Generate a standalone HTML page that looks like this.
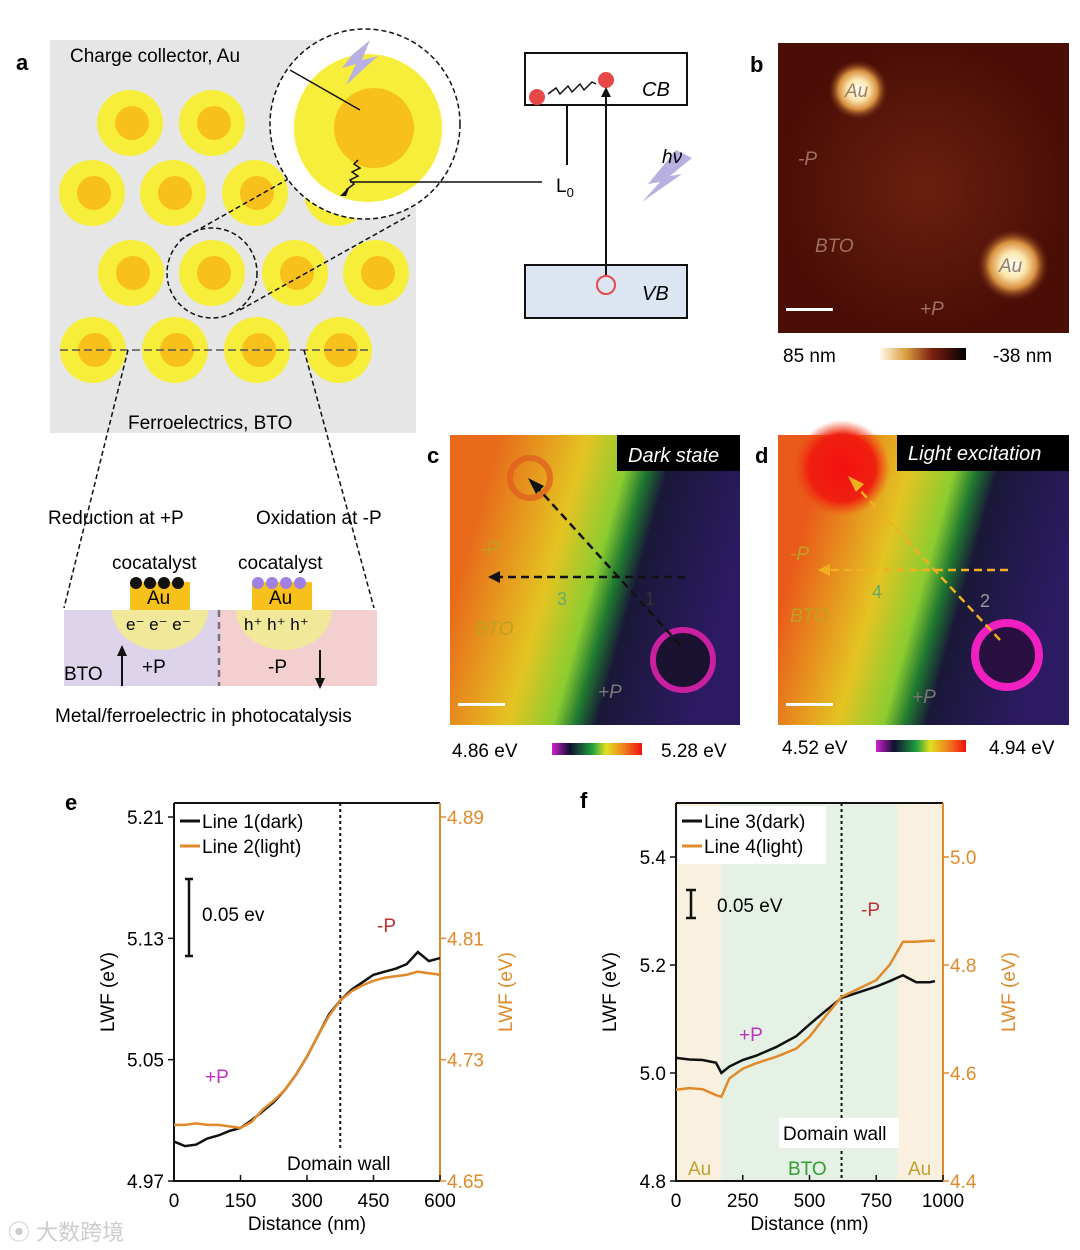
<!DOCTYPE html>
<html><head><meta charset="utf-8"><style>
body{margin:0;background:#fff;}
svg{display:block;font-family:"Liberation Sans",Arial,sans-serif;}
</style></head><body>
<svg id="fig" width="1080" height="1250" viewBox="0 0 1080 1250">
<defs>
<linearGradient id="gc" gradientUnits="userSpaceOnUse" x1="470" y1="540" x2="720" y2="610">
<stop offset="0" stop-color="#e86a1a"/><stop offset="0.33" stop-color="#e4c422"/><stop offset="0.5" stop-color="#8ccc30"/><stop offset="0.58" stop-color="#1f7a30"/><stop offset="0.66" stop-color="#1a1838"/><stop offset="1" stop-color="#2c1a62"/></linearGradient>
<linearGradient id="gd" gradientUnits="userSpaceOnUse" x1="800" y1="540" x2="1050" y2="610">
<stop offset="0" stop-color="#ea5a1a"/><stop offset="0.33" stop-color="#e4c422"/><stop offset="0.5" stop-color="#8ccc30"/><stop offset="0.58" stop-color="#1f7a30"/><stop offset="0.66" stop-color="#1a1838"/><stop offset="1" stop-color="#2c1a62"/></linearGradient>
<linearGradient id="cbar1" x1="0" x2="1"><stop offset="0" stop-color="#d020d0"/><stop offset="0.2" stop-color="#101030"/><stop offset="0.45" stop-color="#20a040"/><stop offset="0.6" stop-color="#e0e020"/><stop offset="0.8" stop-color="#f08020"/><stop offset="1" stop-color="#f01010"/></linearGradient>
<linearGradient id="cbar2" x1="0" x2="1"><stop offset="0" stop-color="#fff8e8"/><stop offset="0.3" stop-color="#d8a040"/><stop offset="0.6" stop-color="#802010"/><stop offset="1" stop-color="#000"/></linearGradient>
<radialGradient id="au"><stop offset="0" stop-color="#ffffff"/><stop offset="0.35" stop-color="#fce8b0"/><stop offset="0.65" stop-color="#d89040"/><stop offset="1" stop-color="#6a200a" stop-opacity="0"/></radialGradient>
<radialGradient id="red"><stop offset="0" stop-color="#f41010"/><stop offset="0.7" stop-color="#f02010"/><stop offset="1" stop-color="#f04010" stop-opacity="0"/></radialGradient>
<radialGradient id="bb"><stop offset="0" stop-color="#6a2010"/><stop offset="1" stop-color="#4a0e06"/></radialGradient>
</defs>

<g>
<text x="16" y="70" font-size="22" font-weight="bold">a</text>
<rect x="50" y="40" width="366" height="393" fill="#e6e6e6"/>
<g id="parts"></g>
<line x1="60" y1="350" x2="370" y2="350" stroke="#555" stroke-dasharray="8,4" stroke-width="1.5"/>
<circle cx="212" cy="273" r="45" fill="none" stroke="#111" stroke-dasharray="5,3" stroke-width="1.5"/>
<line x1="180" y1="240" x2="290" y2="178" stroke="#111" stroke-dasharray="5,3" stroke-width="1.5"/>
<line x1="240" y1="310" x2="410" y2="215" stroke="#111" stroke-dasharray="5,3" stroke-width="1.5"/>
<circle cx="365" cy="124" r="95" fill="#fff" stroke="#111" stroke-dasharray="5,3" stroke-width="1.5"/>
<circle cx="368" cy="128" r="74" fill="#f7ee3c"/>
<circle cx="374" cy="128" r="40" fill="#f8c01a"/>
<polygon points="352,55 370,40 362,60 378,56 346,85 356,64 342,68" fill="#b8b0e0"/>
<polyline points="358,160 354,164 360,168 352,172 358,176 350,180 354,184 346,190" fill="none" stroke="#111" stroke-width="1.5"/>
<polygon points="340,196 350,186 346,196" fill="#111"/>
<line x1="350" y1="182" x2="542" y2="182" stroke="#111" stroke-width="1.5"/>
<line x1="290" y1="70" x2="360" y2="110" stroke="#111" stroke-width="1.5"/>
<text x="70" y="62" font-size="19">Charge collector,  Au</text>
<text x="128" y="429" font-size="19">Ferroelectrics, BTO</text>
<line x1="128" y1="350" x2="64" y2="608" stroke="#111" stroke-dasharray="5,3" stroke-width="1.5"/>
<line x1="304" y1="350" x2="374" y2="608" stroke="#111" stroke-dasharray="5,3" stroke-width="1.5"/>
<text x="48" y="524" font-size="19">Reduction at +P</text>
<text x="256" y="524" font-size="19">Oxidation at -P</text>
<text x="112" y="569" font-size="19">cocatalyst</text>
<text x="238" y="569" font-size="19">cocatalyst</text>
<rect x="64" y="610" width="155" height="76" fill="#ddd4ec"/>
<rect x="219" y="610" width="158" height="76" fill="#f4cfd0"/>
<path d="M112,610 A48,40 0 0 0 208,610 Z" fill="#f2e89a"/>
<path d="M236,610 A48,40 0 0 0 332,610 Z" fill="#f2e89a"/>
<rect x="130" y="582" width="60" height="28" fill="#f8c01a"/>
<rect x="252" y="582" width="60" height="28" fill="#f8c01a"/>
<g fill="#111"><circle cx="136" cy="583" r="6"/><circle cx="150" cy="583" r="6"/><circle cx="164" cy="583" r="6"/><circle cx="178" cy="583" r="6"/></g>
<g fill="#a080e0"><circle cx="258" cy="583" r="6"/><circle cx="272" cy="583" r="6"/><circle cx="286" cy="583" r="6"/><circle cx="300" cy="583" r="6"/></g>
<text x="147" y="604" font-size="19">Au</text><text x="269" y="604" font-size="19">Au</text>
<text x="126" y="630" font-size="17">e⁻ e⁻ e⁻</text>
<text x="244" y="630" font-size="17">h⁺ h⁺ h⁺</text>
<line x1="219" y1="610" x2="219" y2="686" stroke="#777" stroke-width="2.5" stroke-dasharray="7,5"/>
<text x="64" y="680" font-size="19">BTO</text>
<line x1="122" y1="686" x2="122" y2="654" stroke="#111" stroke-width="2"/><polygon points="117,656 122,645 127,656" fill="#111"/>
<text x="142" y="673" font-size="19">+P</text>
<text x="268" y="673" font-size="19">-P</text>
<line x1="320" y1="650" x2="320" y2="680" stroke="#111" stroke-width="2"/><polygon points="315,678 320,689 325,678" fill="#111"/>
<text x="55" y="722" font-size="19">Metal/ferroelectric in photocatalysis</text>
</g>

<g>
<rect x="525" y="53" width="162" height="52" fill="#fff" stroke="#111" stroke-width="2"/>
<rect x="525" y="265" width="162" height="53" fill="#dce6f2" stroke="#111" stroke-width="2"/>
<text x="642" y="96" font-size="20" font-style="italic">CB</text>
<text x="642" y="300" font-size="20" font-style="italic">VB</text>
<circle cx="537" cy="97" r="8" fill="#e84848"/><circle cx="606" cy="80" r="8" fill="#e84848"/>
<polyline points="548,94 556,88 560,94 568,86 572,92 580,84 584,90 592,82 596,84" fill="none" stroke="#111" stroke-width="1.5"/>
<circle cx="606" cy="285" r="9" fill="none" stroke="#e84848" stroke-width="2"/>
<line x1="606" y1="275" x2="606" y2="95" stroke="#111" stroke-width="2"/><polygon points="601,97 606,87 611,97" fill="#111"/>
<line x1="567" y1="165" x2="567" y2="105" stroke="#111" stroke-width="2"/>
<text x="556" y="192" font-size="19">L<tspan font-size="13" dy="5">0</tspan></text>
<polygon points="676,150 692,158 670,176 682,174 642,202 660,182 648,184" fill="#b8b0e0"/>
<text x="662" y="163" font-size="19" font-style="italic">hν</text>
</g>

<g>
<text x="750" y="72" font-size="22" font-weight="bold">b</text>
<rect x="778" y="43" width="291" height="290" fill="url(#bb)"/>
<circle cx="858" cy="90" r="30" fill="url(#au)"/><circle cx="1013" cy="265" r="36" fill="url(#au)"/>
<text x="845" y="97" font-size="19" font-style="italic" fill="#a08060">Au</text>
<text x="999" y="272" font-size="19" font-style="italic" fill="#908070">Au</text>
<text x="798" y="165" font-size="19" font-style="italic" fill="#a07060">-P</text>
<text x="815" y="252" font-size="19" font-style="italic" fill="#a07060">BTO</text>
<text x="920" y="315" font-size="19" font-style="italic" fill="#a07060">+P</text>
<rect x="786" y="308" width="47" height="3" fill="#fff"/>
<text x="783" y="362" font-size="19">85 nm</text>
<rect x="880" y="348" width="86" height="12" fill="url(#cbar2)"/>
<text x="993" y="362" font-size="19">-38 nm</text>
</g>

<g>
<text x="427" y="463" font-size="22" font-weight="bold">c</text>
<rect x="450" y="435" width="290" height="290" fill="url(#gc)"/>
<circle cx="530" cy="478" r="20" fill="none" stroke="#e05a20" stroke-width="6" opacity="0.7"/>
<circle cx="683" cy="660" r="30" fill="#1a1230" stroke="#c820a0" stroke-width="6"/>
<rect x="617" y="435" width="123" height="36" fill="#000"/>
<text x="628" y="462" font-size="20" font-style="italic" fill="#fff">Dark state</text>
<line x1="680" y1="645" x2="535" y2="485" stroke="#111" stroke-width="2.5" stroke-dasharray="8,5"/><polygon points="528,478 544,486 536,494" fill="#111"/>
<line x1="685" y1="577" x2="498" y2="577" stroke="#111" stroke-width="2.5" stroke-dasharray="8,5"/><polygon points="488,577 500,571 500,583" fill="#111"/>
<text x="645" y="605" font-size="18" fill="#333">1</text><text x="557" y="605" font-size="18" fill="#6a6">3</text>
<text x="480" y="555" font-size="19" font-style="italic" fill="#c0a020">-P</text>
<text x="475" y="635" font-size="19" font-style="italic" fill="#c0a020">BTO</text>
<text x="598" y="698" font-size="19" font-style="italic" fill="#777">+P</text>
<rect x="458" y="703" width="47" height="3" fill="#fff"/>
<text x="452" y="757" font-size="19">4.86 eV</text>
<rect x="552" y="743" width="90" height="12" fill="url(#cbar1)"/>
<text x="661" y="757" font-size="19">5.28 eV</text>
</g>

<g>
<text x="755" y="463" font-size="22" font-weight="bold">d</text>
<rect x="778" y="435" width="291" height="290" fill="url(#gd)"/>
<circle cx="842" cy="468" r="48" fill="url(#red)"/>
<circle cx="1007" cy="655" r="32" fill="#2a1040" stroke="#f020c0" stroke-width="8"/>
<rect x="897" y="435" width="172" height="36" fill="#000"/>
<text x="908" y="460" font-size="20" font-style="italic" fill="#fff">Light excitation</text>
<line x1="1000" y1="640" x2="855" y2="485" stroke="#f0b020" stroke-width="2.5" stroke-dasharray="8,5"/><polygon points="848,476 864,484 856,492" fill="#f0b020"/>
<line x1="1008" y1="570" x2="828" y2="570" stroke="#f0b020" stroke-width="2.5" stroke-dasharray="8,5"/><polygon points="818,570 830,564 830,576" fill="#f0b020"/>
<text x="980" y="607" font-size="18" fill="#999">2</text><text x="872" y="598" font-size="18" fill="#6a6">4</text>
<text x="790" y="560" font-size="19" font-style="italic" fill="#c0a020">-P</text>
<text x="790" y="622" font-size="19" font-style="italic" fill="#c0a020">BTO</text>
<text x="912" y="703" font-size="19" font-style="italic" fill="#777">+P</text>
<rect x="786" y="703" width="47" height="3" fill="#fff"/>
<text x="782" y="754" font-size="19">4.52 eV</text>
<rect x="876" y="740" width="90" height="12" fill="url(#cbar1)"/>
<text x="989" y="754" font-size="19">4.94 eV</text>
</g>

<g id="chartE"></g>
<g id="chartF"></g>
<text x="8" y="1240" font-size="22" fill="#ccc" font-family="'Liberation Sans','Noto Sans CJK SC',sans-serif">⦿ 大数跨境</text>
</svg>
<script>
const NS="http://www.w3.org/2000/svg";
function mk(p,t,a,txt){const e=document.createElementNS(NS,t);for(const k in a)e.setAttribute(k,a[k]);if(txt!==undefined)e.textContent=txt;p.appendChild(e);return e;}
const pg=document.getElementById('parts');
const pts=[[130,123],[212,123],[92,193],[173,193],[255,193],[337,193],[131,273],[212,273],[295,273],[376,273],[93,350],[175,350],[257,350],[339,350]];
pts.forEach(p=>{const a=mk(pg,'circle',{cx:p[0],cy:p[1],r:33,fill:'#f7ee3c'});


mk(pg,'circle',{cx:p[0]+2,cy:p[1],r:17,fill:'#f8c01a'});});

const eX=[0,25,50,75,100,125,150,175,200,225,250,275,300,325,350,375,400,425,450,475,500,525,550,575,600];
const eDark=[4.996,4.993,4.994,4.998,5.0,5.003,5.005,5.010,5.016,5.022,5.030,5.040,5.052,5.066,5.080,5.089,5.096,5.101,5.106,5.108,5.110,5.113,5.121,5.115,5.117];
const eLight=[4.687,4.687,4.688,4.687,4.687,4.686,4.685,4.689,4.697,4.703,4.710,4.720,4.732,4.746,4.759,4.769,4.775,4.779,4.782,4.784,4.785,4.786,4.788,4.787,4.786];
const eXTicks=[0,150,300,450,600];
const eLTicks=[4.97,5.05,5.13,5.21];
const eRTicks=[4.65,4.73,4.81,4.89];
const fX=[0,50,100,150,170,200,250,300,375,450,500,560,620,700,750,800,850,900,950,970];
const fDark=[5.028,5.025,5.024,5.019,5.0,5.012,5.024,5.032,5.048,5.068,5.090,5.115,5.139,5.152,5.160,5.170,5.181,5.168,5.168,5.170];
const fLight=[4.569,4.572,4.570,4.559,4.556,4.590,4.608,4.618,4.630,4.645,4.667,4.705,4.741,4.760,4.772,4.800,4.843,4.843,4.845,4.845];
const fXTicks=[0,250,500,750,1000];
const fLTicks=[4.8,5.0,5.2,5.4];
const fRTicks=[4.4,4.6,4.8,5.0];

function chart(g,o){
 const sx=v=>o.x0+(v-o.xmin)/(o.xmax-o.xmin)*(o.x1-o.x0);
 const syL=v=>o.yb-(v-o.lmin)/(o.lmax-o.lmin)*(o.yb-o.yt);
 const syR=v=>o.yb-(v-o.rmin)/(o.rmax-o.rmin)*(o.yb-o.yt);
 if(o.shade){o.shade.forEach(s=>{const r=mk(g,'rect',{x:sx(s[0]),y:803,width:sx(s[1])-sx(s[0]),height:o.yb-803,fill:s[2]});
 
 });}
 mk(g,'text',{x:o.lab[0],y:o.lab[1],'font-size':22,'font-weight':'bold'},o.label);
 const ax=mk(g,'path',{d:`M${o.x0},803H${o.x1}M${o.x0},803V${o.yb}H${o.x1}`,fill:'none',stroke:'#111','stroke-width':2});
 
 
 mk(g,'line',{x1:o.x1,y1:803,x2:o.x1,y2:o.yb,stroke:'#e08a2a','stroke-width':2});
 o.xt.forEach(v=>{mk(g,'line',{x1:sx(v),y1:o.yb,x2:sx(v),y2:o.yb-6,stroke:'#111','stroke-width':1.5});
  const t=mk(g,'text',{x:sx(v),y:o.yb+26,'font-size':19,'text-anchor':'middle'},v);
  
  });
 o.lt.forEach(v=>{mk(g,'line',{x1:o.x0,y1:syL(v),x2:o.x0-6,y2:syL(v),stroke:'#111','stroke-width':1.5});
  const t=mk(g,'text',{x:o.x0-10,y:syL(v)+7,'font-size':19,'text-anchor':'end'},v.toFixed(o.dec));
  
  });
 o.rt.forEach(v=>{mk(g,'line',{x1:o.x1,y1:syR(v),x2:o.x1+6,y2:syR(v),stroke:'#e08a2a','stroke-width':1.5});
  const t=mk(g,'text',{x:o.x1+7,y:syR(v)+7,'font-size':19,fill:'#e08a2a'},v.toFixed(o.dec));
  
  });
 const xt=mk(g,'text',{x:(o.x0+o.x1)/2,y:1230,'font-size':19,'text-anchor':'middle'},'Distance (nm)');
 
 
 const yl=mk(g,'text',{x:0,y:0,'font-size':19,'text-anchor':'middle',transform:`translate(${o.x0-60},992) rotate(-90)`},'LWF (eV)');
 
 
 const yr=mk(g,'text',{x:0,y:0,'font-size':19,fill:'#e08a2a','text-anchor':'middle',transform:`translate(${o.x1+72},992) rotate(-90)`},'LWF (eV)');
 
 
 const dw=mk(g,'line',{x1:sx(o.dw),y1:803,x2:sx(o.dw),y2:o.dwEnd,stroke:'#111','stroke-width':2,'stroke-dasharray':'3,3'});
 
 
 const dark=mk(g,'polyline',{points:o.xs.map((x,i)=>sx(x)+','+syL(o.dark[i])).join(' '),fill:'none',stroke:'#111','stroke-width':2.5});
 
 
 const light=mk(g,'polyline',{points:o.xs.map((x,i)=>sx(x)+','+syR(o.light[i])).join(' '),fill:'none',stroke:'#e08a2a','stroke-width':2.5});
 
 
 const lx=o.x0+6;
 if(o.shade) mk(g,'rect',{x:lx-4,y:806,width:148,height:58,fill:'#fff'});
 mk(g,'line',{x1:lx,y1:821,x2:lx+20,y2:821,stroke:'#111','stroke-width':3});
 mk(g,'line',{x1:lx,y1:846,x2:lx+20,y2:846,stroke:'#e08a2a','stroke-width':3});
 const l1=mk(g,'text',{x:lx+22,y:828,'font-size':19},o.leg[0]);
 
 
 const l2=mk(g,'text',{x:lx+22,y:853,'font-size':19},o.leg[1]);
 
 
 o.extra(g,sx,syL);
}
chart(document.getElementById('chartE'),{label:'e',lab:[65,810],x0:174,x1:440,yt:817,yb:1181,xmin:0,xmax:600,lmin:4.97,lmax:5.21,rmin:4.65,rmax:4.89,
 xt:eXTicks,lt:eLTicks,rt:eRTicks,dec:2,xs:eX,dark:eDark,light:eLight,dw:375,dwEnd:1148,leg:['Line 1(dark)','Line 2(light)'],
 extra:(g,sx,sy)=>{
  mk(g,'path',{d:'M189,879V956M185,879H193M185,956H193',stroke:'#111','stroke-width':2.5,fill:'none'});
  mk(g,'text',{x:202,y:921,'font-size':19},'0.05 ev');
  mk(g,'text',{x:377,y:932,'font-size':19,fill:'#c03030'},'-P');
  mk(g,'text',{x:205,y:1083,'font-size':19,fill:'#c030c0'},'+P');
  mk(g,'text',{x:287,y:1170,'font-size':19},'Domain wall');
 }});
chart(document.getElementById('chartF'),{label:'f',lab:[580,808],x0:676,x1:943,yt:803,yb:1181,xmin:0,xmax:1000,lmin:4.8,lmax:5.5,rmin:4.4,rmax:5.1,
 xt:fXTicks,lt:fLTicks,rt:fRTicks,dec:1,xs:fX,dark:fDark,light:fLight,dw:620,dwEnd:1181,leg:['Line 3(dark)','Line 4(light)'],
 shade:[[0,170,'#faf0e0'],[170,830,'#e4f1e4'],[830,1000,'#faf0e0']],
 extra:(g,sx,sy)=>{
  mk(g,'path',{d:'M691,890V918M686,890H696M686,918H696',stroke:'#111','stroke-width':2.5,fill:'none'});
  mk(g,'text',{x:717,y:912,'font-size':19},'0.05 eV');
  mk(g,'text',{x:861,y:916,'font-size':19,fill:'#c03030'},'-P');
  mk(g,'text',{x:739,y:1041,'font-size':19,fill:'#c030c0'},'+P');
  mk(g,'rect',{x:779,y:1118,width:120,height:30,fill:'#fff'});
  mk(g,'text',{x:783,y:1140,'font-size':19},'Domain wall');
  mk(g,'text',{x:688,y:1175,'font-size':19,fill:'#c0a030'},'Au');
  mk(g,'text',{x:788,y:1175,'font-size':19,fill:'#30a030'},'BTO');
  mk(g,'text',{x:908,y:1175,'font-size':19,fill:'#c0a030'},'Au');
 }});
</script>
</body></html>
